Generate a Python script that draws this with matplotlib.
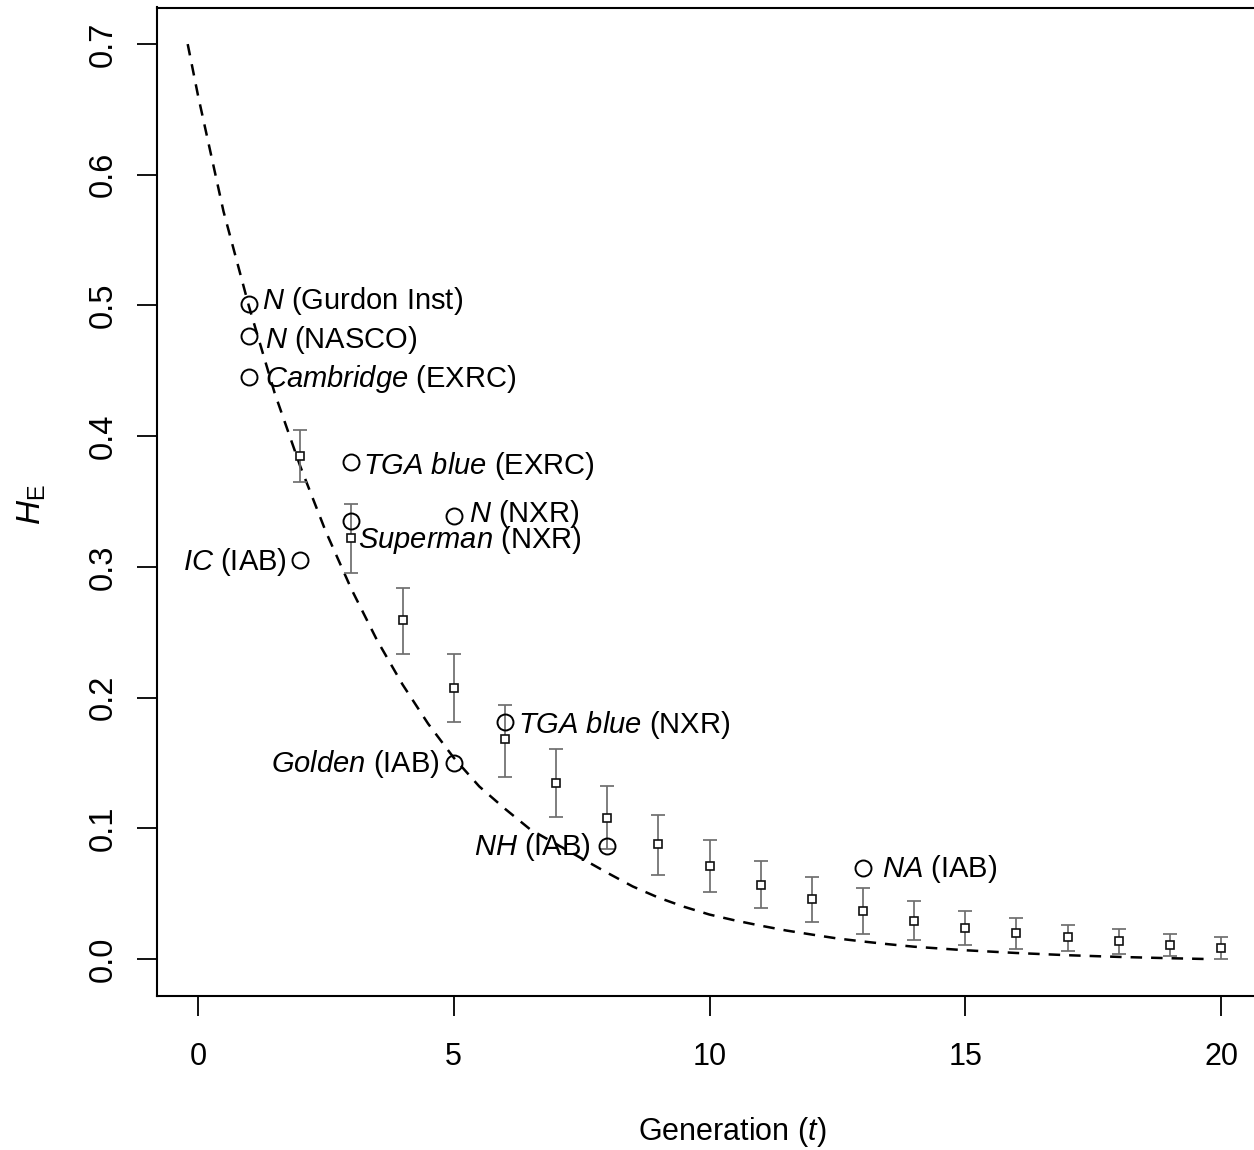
import matplotlib
matplotlib.use("Agg")
import matplotlib.pyplot as plt

plt.rcParams['font.family'] = ['Liberation Sans', 'DejaVu Sans']
plt.rcParams['mathtext.fontset'] = 'custom'
plt.rcParams['mathtext.rm'] = 'Liberation Sans'
plt.rcParams['mathtext.it'] = 'Liberation Sans:italic'
plt.rcParams['mathtext.bf'] = 'Liberation Sans:bold'

# ---- data ----
# theoretical (dashed) curve
curve_t = [-0.2, 0, 0.5, 1, 1.5, 2, 2.5, 3, 3.5, 4, 4.5, 5, 5.5, 6, 6.5, 7, 7.5, 8,
           8.5, 9, 9.5, 10, 10.5, 11, 11.5, 12, 12.5, 13, 13.5, 14, 15, 16, 17, 18, 19, 19.7]
curve_h = [0.700, 0.661, 0.572, 0.499, 0.433, 0.377, 0.327, 0.283, 0.244, 0.210, 0.180,
           0.154, 0.132, 0.115, 0.099, 0.088, 0.077, 0.066, 0.0555, 0.047, 0.040, 0.034,
           0.0295, 0.0255, 0.0218, 0.0187, 0.0157, 0.0134, 0.0113, 0.0094, 0.0067, 0.0046,
           0.0029, 0.0016, 0.0006, 0.0]

# simulated means with error bars
sim_t = [2, 3, 4, 5, 6, 7, 8, 9, 10, 11, 12, 13, 14, 15, 16, 17, 18, 19, 20]
sim_mean = [0.385, 0.322, 0.259, 0.207, 0.168, 0.135, 0.108, 0.088, 0.071, 0.057, 0.046,
            0.037, 0.029, 0.024, 0.020, 0.0166, 0.0135, 0.0107, 0.0087]
sim_lo = [0.365, 0.295, 0.233, 0.181, 0.139, 0.109, 0.084, 0.064, 0.0515, 0.039, 0.028,
          0.019, 0.0145, 0.011, 0.0074, 0.0064, 0.0038, 0.0021, 0.0002]
sim_hi = [0.405, 0.348, 0.284, 0.233, 0.194, 0.161, 0.132, 0.110, 0.091, 0.075, 0.063,
          0.054, 0.0446, 0.0367, 0.0316, 0.0262, 0.023, 0.0191, 0.0166]

# observed populations
obs_t = [1, 1, 1, 3, 3, 5, 2, 6, 5, 8, 13]
obs_h = [0.501, 0.477, 0.445, 0.380, 0.335, 0.339, 0.305, 0.181, 0.150, 0.0865, 0.070]
obs_labels = [r'$\mathit{N}$ (Gurdon Inst)', r'$\mathit{N}$ (NASCO)',
              r'$\mathit{Cambridge}$ (EXRC)', r'$\mathit{TGA\ blue}$ (EXRC)',
              r'$\mathit{Superman}$ (NXR)', r'$\mathit{N}$ (NXR)', r'$\mathit{IC}$ (IAB)',
              r'$\mathit{TGA\ blue}$ (NXR)', r'$\mathit{Golden}$ (IAB)',
              r'$\mathit{NH}$ (IAB)', r'$\mathit{NA}$ (IAB)']

x_ticks = [0, 5, 10, 15, 20]
y_ticks = [0.0, 0.1, 0.2, 0.3, 0.4, 0.5, 0.6, 0.7]
y_ticklabels = ['0.0', '0.1', '0.2', '0.3', '0.4', '0.5', '0.6', '0.7']

# label offsets in pixels (dx, dy up); negative dx -> text on the left
label_dx = [13, 16, 16, 12, 7, 15, -13, 13, -14, -16, 19]
label_dy = [6, -2, 1, -1, -16.5, 4, 1, 0, 1, 1, 1]

# ---- figure ----
W, H = 1254, 1150
fig = plt.figure(figsize=(W / 100, H / 100), dpi=100)
ax_left, ax_right = 157, 1262
ax_top, ax_bot = 7.5, 995.6
ax = fig.add_axes([ax_left / W, 1 - ax_bot / H, (ax_right - ax_left) / W, (ax_bot - ax_top) / H])
ax.set_xlim(-0.8, 20.8)
ax.set_ylim(-0.028, 0.728)

ax.plot(curve_t, curve_h, color='black', lw=1.8, linestyle=(0, (4.6, 3.6)), zorder=2)

yerr = [[m - lo for m, lo in zip(sim_mean, sim_lo)], [hi - m for m, hi in zip(sim_mean, sim_hi)]]
ax.errorbar(sim_t, sim_mean, yerr=yerr, fmt='none', ecolor='#6e6e6e', elinewidth=1.25,
            capsize=4.8, capthick=1.25, zorder=3)
ax.plot(sim_t, sim_mean, linestyle='none', marker='s', markersize=6.0, markerfacecolor='white',
        markeredgecolor='#111111', markeredgewidth=1.2, zorder=4)

ax.plot(obs_t, obs_h, linestyle='none', marker='o', markersize=11.5, markerfacecolor='none',
        markeredgecolor='black', markeredgewidth=1.4, zorder=5)

ann_size = 21
cap_half = ann_size * 0.716 / 2
for x, y, lab, dx, dy in zip(obs_t, obs_h, obs_labels, label_dx, label_dy):
    ax.annotate(lab, xy=(x, y), xytext=(dx * 0.72, dy * 0.72 - cap_half),
                textcoords='offset points', ha='left' if dx > 0 else 'right',
                va='baseline', fontsize=ann_size, color='black', zorder=6)

ax.set_xticks(x_ticks)
ax.set_xticklabels([str(v) for v in x_ticks])
ax.set_yticks(y_ticks)
ax.set_yticklabels(y_ticklabels)
ax.tick_params(axis='both', direction='out', length=14.4, width=1.3, color='black')
ax.tick_params(axis='x', pad=19, labelsize=22)
ax.tick_params(axis='y', pad=13, labelrotation=90, labelsize=23.5)
for lab in ax.get_yticklabels():
    lab.set_va('center')

for side in ['left', 'bottom', 'top', 'right']:
    ax.spines[side].set_linewidth(1.5)
    ax.spines[side].set_color('black')

ax.set_xlabel(r'Generation ($\mathit{t}$)', fontsize=22, va='center')
ax.xaxis.set_label_coords((732 - ax_left) / (ax_right - ax_left), -(1132 - ax_bot) / (ax_bot - ax_top))
ax.set_ylabel(r'$\mathit{H}_{\mathrm{E}}$', fontsize=24, va='center')
ax.yaxis.set_label_coords((32 - ax_left) / (ax_right - ax_left), 1 - (505 - ax_top) / (ax_bot - ax_top))

fig.savefig('out.png', dpi=100)
